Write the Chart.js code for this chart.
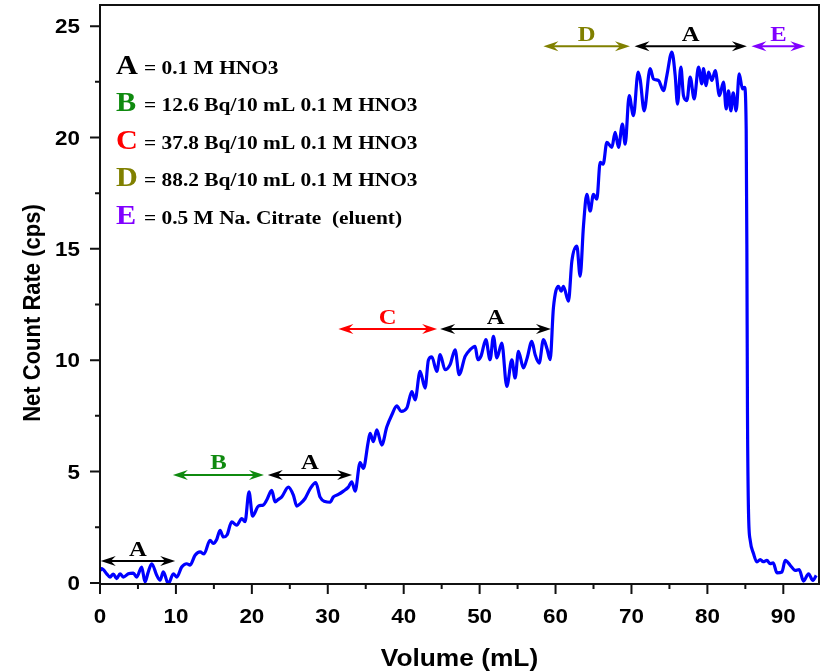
<!DOCTYPE html>
<html>
<head>
<meta charset="utf-8">
<script src="https://cdn.jsdelivr.net/npm/chart.js@4.4.1/dist/chart.umd.min.js"></script>
<style>
  html, body { margin: 0; padding: 0; background: #fff; }
  #wrap { width: 827px; height: 672px; position: relative; }
</style>
</head>
<body>
<div id="wrap"><canvas id="chart"></canvas></div>
<script>
// Net count rate vs. eluted volume
const volume = [
  0.05, 0.22, 0.88, 1.32, 1.75, 2.20, 2.64, 3.07, 3.73, 4.39, 4.84, 5.49, 5.93, 6.32, 6.81, 7.47, 7.91, 8.34, 9.00, 9.66,
  10.11, 10.76, 11.42, 11.86, 12.52, 13.18, 13.70, 14.49, 14.93, 15.37, 15.81, 16.25, 16.73, 17.35, 18.01, 18.67, 19.10, 19.63,
  20.09, 20.86, 21.52, 21.96, 22.62, 23.06, 23.49, 23.94, 24.81, 25.47, 25.92, 26.35, 27.01, 27.67, 28.42, 28.99, 29.64,
  30.30, 30.74, 31.40, 32.06, 32.71, 33.16, 33.60, 34.26, 34.69, 35.31, 35.57, 36.01, 36.46, 37.11, 37.77, 38.43,
  39.09, 39.66, 40.41, 41.07, 41.50, 42.16, 42.82, 43.25, 43.70, 44.36, 44.80, 45.45, 46.11, 46.77, 47.30, 48.09, 48.75, 49.41,
  49.76, 50.20, 50.82, 51.38, 51.82, 52.27, 52.92, 53.58, 54.24, 54.68, 55.11, 55.77, 56.26, 56.88, 57.31, 57.84, 58.41, 58.89, 59.29,
  59.72, 60.38, 60.74, 61.04, 61.70, 62.15, 62.81, 63.24, 63.68, 64.12, 64.56, 64.99, 65.44, 65.88, 66.27, 66.76, 67.42, 67.85,
  68.29, 68.81, 69.17, 69.70, 70.26, 70.88, 71.15, 71.67, 72.46, 72.90, 73.56, 74.22, 74.66, 75.32, 75.76, 76.06, 76.51, 76.85,
  77.30, 77.73, 78.26, 78.83, 79.27, 79.48, 79.84, 80.14, 80.59, 81.03, 81.59, 82.12, 82.48, 82.78, 83.09, 83.40, 83.79, 84.19,
  84.62, 84.89, 85.11, 85.20, 85.28, 85.42, 85.64, 86.07, 86.52, 86.96, 87.35, 87.84, 88.27, 88.67, 89.16, 89.82, 90.25, 90.91,
  91.57, 92.09, 92.66, 93.32, 93.90, 94.33
];
const countRate = [
  0.55, 0.64, 0.41, 0.26, 0.40, 0.19, 0.41, 0.26, 0.41, 0.44, 0.26, 0.71, 0.04, 0.45, 0.86, 0.34, 0.12, 0.49, -0.04, 0.41,
  0.26, 0.71, 0.86, 0.80, 1.24, 1.39, 1.30, 1.91, 1.77, 1.95, 2.36, 2.06, 2.15, 2.74, 2.59, 2.89, 2.75, 4.09,
  3.00, 3.45, 3.50, 3.72, 4.15, 3.64, 3.75, 3.86, 4.30, 3.94, 3.45, 3.55, 3.79, 4.22, 4.50, 3.85, 3.65,
  3.62, 3.86, 3.97, 4.12, 4.30, 4.54, 4.12, 5.40, 5.14, 6.30, 6.72, 6.34, 6.87, 6.19, 7.00, 7.54,
  7.95, 7.70, 7.85, 8.59, 8.22, 9.50, 8.75, 10.00, 10.15, 9.50, 10.25, 9.57, 9.80, 10.47, 9.35, 10.17, 10.47, 10.62,
  10.02, 10.20, 10.92, 10.02, 11.07, 10.10, 10.77, 8.82, 10.02, 9.20, 10.40, 9.65, 10.10, 10.85, 10.25, 9.87, 10.92, 10.50, 10.02,
  12.35, 13.32, 13.10, 13.32, 12.65, 14.45, 15.12, 13.77, 16.03, 17.45, 16.70, 17.45, 17.23, 18.88, 18.80, 19.78, 19.56, 20.23,
  19.56, 20.60, 19.70, 21.88, 20.98, 22.94, 22.60, 21.20, 23.09, 22.63, 22.56, 22.10, 22.78, 23.84, 22.78, 21.50, 23.16, 21.88,
  21.66, 22.71, 21.73, 23.16, 22.41, 23.09, 22.33, 22.94, 22.56, 23.00, 21.88, 22.49, 21.28, 22.10, 21.20, 22.00, 21.20, 22.86,
  22.18, 22.25, 20.38, 15.00, 7.60, 3.12, 1.91, 1.32, 0.94, 1.05, 0.95, 1.01, 0.86, 0.90, 0.45, 0.49, 1.01, 0.79,
  0.56, 0.60, 0.08, 0.41, 0.11, 0.34
];

const xTicks = [0, 10, 20, 30, 40, 50, 60, 70, 80, 90];
const xMinor = [5, 15, 25, 35, 45, 55, 65, 75, 85];
const yTicks = [0, 5, 10, 15, 20, 25];
const yMinor = [2.5, 7.5, 12.5, 17.5, 22.5];

// solution segments marked over the curve
const segLabel = ['A', 'B', 'A', 'C', 'A', 'D', 'A', 'E'];
const segStart = [0.1, 9.6, 22.1, 31.4, 44.8, 58.4, 70.4, 85.8];
const segEnd = [9.9, 21.6, 33.2, 44.4, 59.4, 69.8, 85.2, 92.9];
const segLevel = [0.98, 4.85, 4.85, 11.4, 11.4, 24.1, 24.1, 24.1];

const keyLetters = ['A', 'B', 'C', 'D', 'E'];
const keyText = [
  '= 0.1 M HNO3',
  '= 12.6 Bq/10 mL 0.1 M HNO3',
  '= 37.8 Bq/10 mL 0.1 M HNO3',
  '= 88.2 Bq/10 mL 0.1 M HNO3',
  '= 0.5 M Na. Citrate  (eluent)'
];
const keyColor = { A: '#000000', B: '#0f8a0f', C: '#ff0000', D: '#808000', E: '#8000ff' };

const SANS = '"Liberation Sans", Arial, sans-serif';
const SERIF = '"Liberation Serif", "Times New Roman", serif';
const SX = 1.12; // text is a bit wider than tall

function wideText(ctx, text, x, y, font, color, align, sx, rotated) {
  ctx.save();
  ctx.translate(x, y);
  if (rotated) {
    ctx.rotate(-Math.PI / 2);
    ctx.scale(1, sx);
  } else {
    ctx.scale(sx, 1);
  }
  ctx.font = font;
  ctx.fillStyle = color;
  ctx.textAlign = align;
  ctx.textBaseline = 'alphabetic';
  ctx.fillText(text, 0, 0);
  ctx.restore();
}

function arrowHead(ctx, x, y, dir) {
  const L = 15, W = 5, N = 5;
  ctx.beginPath();
  ctx.moveTo(x, y);
  ctx.lineTo(x - dir * L, y - W);
  ctx.lineTo(x - dir * (L - N), y);
  ctx.lineTo(x - dir * L, y + W);
  ctx.closePath();
  ctx.fill();
}

const decor = {
  id: 'decor',
  afterDraw(chart) {
    const ctx = chart.ctx;
    const { left, right, top, bottom } = chart.chartArea;
    const xs = chart.scales.x, ys = chart.scales.y;

    // frame + ticks
    ctx.save();
    ctx.strokeStyle = '#111';
    ctx.lineWidth = 2;
    ctx.strokeRect(left, top, right - left, bottom - top);
    ctx.beginPath();
    xTicks.forEach(v => { const p = xs.getPixelForValue(v); ctx.moveTo(p, bottom); ctx.lineTo(p, bottom + 10); });
    xMinor.forEach(v => { const p = xs.getPixelForValue(v); ctx.moveTo(p, bottom); ctx.lineTo(p, bottom + 5); });
    yTicks.forEach(v => { const p = ys.getPixelForValue(v); ctx.moveTo(left, p); ctx.lineTo(left - 10, p); });
    yMinor.forEach(v => { const p = ys.getPixelForValue(v); ctx.moveTo(left, p); ctx.lineTo(left - 5, p); });
    ctx.stroke();
    ctx.restore();

    // tick labels
    const tickFont = 'bold 20px ' + SANS;
    xTicks.forEach(v => wideText(ctx, String(v), xs.getPixelForValue(v), bottom + 39, tickFont, '#000', 'center', SX));
    yTicks.forEach(v => wideText(ctx, String(v), left - 20, ys.getPixelForValue(v) + 7.2, tickFont, '#000', 'right', SX));

    // axis titles
    wideText(ctx, 'Volume (mL)', (left + right) / 2, 666, 'bold 23.5px ' + SANS, '#000', 'center', SX);
    wideText(ctx, 'Net Count Rate (cps)', 39.5, 313, 'bold 22px ' + SANS, '#000', 'center', SX, true);

    // key
    keyLetters.forEach((k, i) => {
      const base = 74 + i * 37.4;
      wideText(ctx, k, 116, base, 'bold 27px ' + SERIF, keyColor[k], 'left', SX);
      wideText(ctx, keyText[i], 144, base, 'bold 18.6px ' + SERIF, '#000', 'left', 1.15);
    });

    // segment arrows
    ctx.save();
    segLabel.forEach((k, i) => {
      const x1 = xs.getPixelForValue(segStart[i]);
      const x2 = xs.getPixelForValue(segEnd[i]);
      const y = ys.getPixelForValue(segLevel[i]);
      ctx.strokeStyle = keyColor[k];
      ctx.fillStyle = keyColor[k];
      ctx.lineWidth = 2;
      ctx.beginPath();
      ctx.moveTo(x1 + 6, y);
      ctx.lineTo(x2 - 6, y);
      ctx.stroke();
      arrowHead(ctx, x1, y, -1);
      arrowHead(ctx, x2, y, 1);
      wideText(ctx, k, (x1 + x2) / 2, y - 5.5, 'bold 22px ' + SERIF, keyColor[k], 'center', SX);
    });
    ctx.restore();
  }
};

new Chart(document.getElementById('chart'), {
  type: 'line',
  data: {
    datasets: [{
      data: volume.map((v, i) => ({ x: v, y: countRate[i] })),
      borderColor: '#0000ff',
      borderWidth: 3.2,
      pointRadius: 0,
      cubicInterpolationMode: 'monotone',
      fill: false
    }]
  },
  options: {
    responsive: true,
    maintainAspectRatio: false,
    animation: false,
    layout: { padding: { left: 100, right: 8, top: 5, bottom: 88 } },
    plugins: { legend: { display: false }, tooltip: { enabled: false } },
    scales: {
      x: { type: 'linear', display: false, min: 0, max: 94.7 },
      y: { type: 'linear', display: false, min: -0.05, max: 25.95 }
    }
  },
  plugins: [decor]
});
</script>
</body>
</html>
